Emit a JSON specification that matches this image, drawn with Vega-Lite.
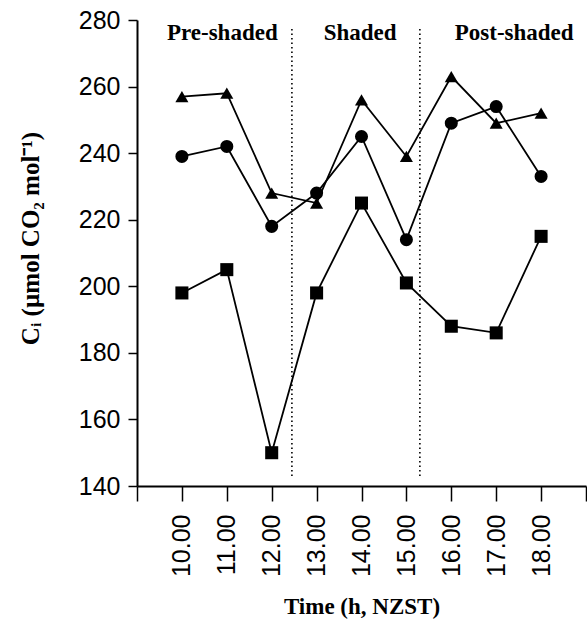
{
  "$schema": "https://vega.github.io/schema/vega-lite/v6.json",
  "autosize": "none",
  "width": 449,
  "height": 466,
  "padding": {"left": 137, "top": 20, "right": 1, "bottom": 149},
  "background": "white",
  "config": {"view": {"stroke": null}},
  "datasets": {
    "obs": [
      {"time": 10, "ci": 257, "series": "A"},
      {"time": 11, "ci": 258, "series": "A"},
      {"time": 12, "ci": 228, "series": "A"},
      {"time": 13, "ci": 225, "series": "A"},
      {"time": 14, "ci": 256, "series": "A"},
      {"time": 15, "ci": 239, "series": "A"},
      {"time": 16, "ci": 263, "series": "A"},
      {"time": 17, "ci": 249, "series": "A"},
      {"time": 18, "ci": 252, "series": "A"},
      {"time": 10, "ci": 239, "series": "B"},
      {"time": 11, "ci": 242, "series": "B"},
      {"time": 12, "ci": 218, "series": "B"},
      {"time": 13, "ci": 228, "series": "B"},
      {"time": 14, "ci": 245, "series": "B"},
      {"time": 15, "ci": 214, "series": "B"},
      {"time": 16, "ci": 249, "series": "B"},
      {"time": 17, "ci": 254, "series": "B"},
      {"time": 18, "ci": 233, "series": "B"},
      {"time": 10, "ci": 198, "series": "C"},
      {"time": 11, "ci": 205, "series": "C"},
      {"time": 12, "ci": 150, "series": "C"},
      {"time": 13, "ci": 198, "series": "C"},
      {"time": 14, "ci": 225, "series": "C"},
      {"time": 15, "ci": 201, "series": "C"},
      {"time": 16, "ci": 188, "series": "C"},
      {"time": 17, "ci": 186, "series": "C"},
      {"time": 18, "ci": 215, "series": "C"}
    ],
    "dividers": [
      {"time": 12.45, "y1": 143, "y2": 278},
      {"time": 15.3, "y1": 143, "y2": 278}
    ],
    "labels": [
      {"time": 10.9, "ci": 276, "label": "Pre-shaded"},
      {"time": 13.97, "ci": 276, "label": "Shaded"},
      {"time": 17.4, "ci": 276, "label": "Post-shaded"}
    ]
  },
  "layer": [
    {
      "data": {"name": "dividers"},
      "mark": {"type": "rule", "color": "black", "strokeWidth": 1.6, "strokeDash": [1.5, 3]},
      "encoding": {
        "x": {"field": "time", "type": "quantitative", "scale": {"domain": [9, 19], "nice": false, "zero": false}},
        "y": {"field": "y1", "type": "quantitative", "scale": {"domain": [140, 280], "nice": false, "zero": false}},
        "y2": {"field": "y2"}
      }
    },
    {
      "data": {"name": "obs"},
      "mark": {"type": "line", "color": "black", "strokeWidth": 1.8},
      "encoding": {
        "x": {
          "field": "time", "type": "quantitative",
          "scale": {"domain": [9, 19], "nice": false, "zero": false},
          "axis": {
            "values": [9, 10, 11, 12, 13, 14, 15, 16, 17, 18, 19],
            "labelExpr": "datum.value >= 10 && datum.value <= 18 ? format(datum.value, '.2f') : ''",
            "labelAngle": -90, "labelAlign": "right", "labelBaseline": "middle",
            "labelFont": "Liberation Sans", "labelFontSize": 25, "labelColor": "black",
            "labelPadding": 13, "tickSize": 15, "tickColor": "black", "tickWidth": 1.5,
            "domainColor": "black", "domainWidth": 2, "grid": false,
            "title": "Time (h, NZST)", "titleFont": "Liberation Serif", "titleFontSize": 23,
            "titleFontWeight": "bold", "titleColor": "black", "titleY": 120, "titleBaseline": "middle"
          }
        },
        "y": {
          "field": "ci", "type": "quantitative",
          "scale": {"domain": [140, 280], "nice": false, "zero": false},
          "axis": {
            "values": [140, 160, 180, 200, 220, 240, 260, 280],
            "labelFont": "Liberation Sans", "labelFontSize": 25, "labelColor": "black",
            "labelPadding": 8, "tickSize": 9, "tickColor": "black", "tickWidth": 1.5,
            "domainColor": "black", "domainWidth": 2, "grid": false,
            "title": "Cᵢ (µmol CO₂ mol⁻¹)", "titleFont": "Liberation Serif", "titleFontSize": 25,
            "titleFontWeight": "bold", "titleColor": "black",
            "titleAngle": -90, "titleX": -107, "titleY": 218, "titleBaseline": "middle", "titleAlign": "center"
          }
        },
        "detail": {"field": "series"}
      }
    },
    {
      "data": {"name": "obs"},
      "mark": {"type": "point", "filled": true, "color": "black", "opacity": 1, "size": 170},
      "encoding": {
        "x": {"field": "time", "type": "quantitative"},
        "y": {"field": "ci", "type": "quantitative"},
        "shape": {
          "field": "series", "type": "nominal",
          "scale": {"domain": ["A", "B", "C"], "range": ["triangle-up", "circle", "square"]},
          "legend": null
        }
      }
    },
    {
      "data": {"name": "labels"},
      "mark": {"type": "text", "font": "Liberation Serif", "fontSize": 23, "fontWeight": "bold", "color": "black", "align": "center", "baseline": "middle"},
      "encoding": {
        "x": {"field": "time", "type": "quantitative"},
        "y": {"field": "ci", "type": "quantitative"},
        "text": {"field": "label"}
      }
    }
  ]
}
